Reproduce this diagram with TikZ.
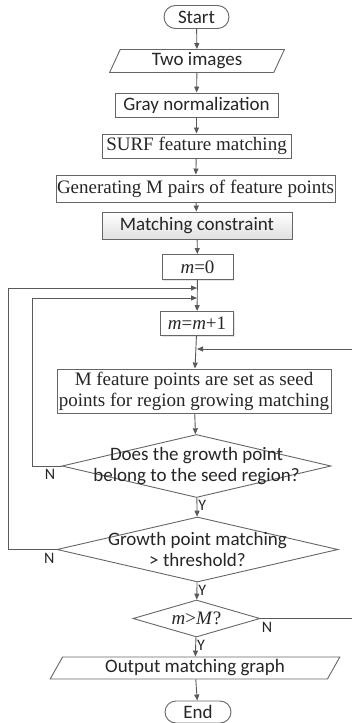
\documentclass[tikz,border=0pt]{standalone}
\usepackage{fontspec}
\setmainfont{Liberation Serif}
\newfontfamily\calfont{Carlito}
\usetikzlibrary{shapes.geometric,shapes.misc,arrows.meta,shadows}

\tikzset{
  base/.style={draw=black!60, line width=0.9bp, inner sep=0pt, text=black!85,
    font=\fontsize{19bp}{21bp}\selectfont},
  sansfont/.style={font=\fontsize{19bp}{21bp}\selectfont\calfont},
  terminal/.style={base, sansfont, rounded rectangle, fill=white},
  process/.style={base, rectangle, fill=white,
    drop shadow={shadow xshift=1.2bp, shadow yshift=-1.2bp, fill=black!20}},
  data/.style={base, trapezium, trapezium stretches=true, fill=white},
  decision/.style={base, diamond, fill=white},
  dlabel/.style={align=center, text=black!85, inner sep=0pt},
  yn/.style={font=\fontsize{16bp}{18bp}\selectfont\calfont, text=black!85, inner sep=1bp},
  line/.style={draw=black!65, line width=0.9bp},
  arrow/.style={line, -{Triangle[length=6bp,width=5bp]}}
}

\begin{document}
\begin{tikzpicture}[x=1bp, y=-1bp]
  \useasboundingbox (0,0) rectangle (351,723);

  \node[terminal, minimum width=65bp, minimum height=23bp] (start) at (196.5,17) {Start};
  \node[data, sansfont, trapezium left angle=69, trapezium right angle=111,
    minimum width=175bp, minimum height=23bp] (two) at (197,61) {Two images};
  \node[process, sansfont, minimum width=163bp, minimum height=24bp] (gray) at (196.5,105) {Gray normalization};
  \node[process, minimum width=189bp, minimum height=24bp] (surf) at (196.5,146) {SURF feature matching};
  \node[process, minimum width=279bp, minimum height=27bp] (gen) at (195.5,188.5) {Generating M pairs of feature points};
  \node[process, sansfont, top color=white, bottom color=black!12,
    minimum width=190bp, minimum height=27bp] (cons) at (197,225.5) {Matching constraint};
  \node[process, minimum width=71bp, minimum height=25bp] (mzero) at (197.5,267) {\textit{m}=0};
  \node[process, minimum width=73bp, minimum height=24bp] (minc) at (197,323.5) {\textit{m}=\textit{m}+1};
  \node[process, align=center, minimum width=274bp, minimum height=44bp] (seed) at (194,391)
    {M feature points are set as seed\\points for region growing matching};

  % decisions
  \node[decision, minimum width=269bp, minimum height=63bp,
    label={[dlabel, sansfont]center:Does the growth point\\belong to the seed region?}] (belong) at (196.5,466) {};
  \node[decision, minimum width=281bp, minimum height=65bp,
    label={[dlabel, sansfont]center:Growth point matching\\> threshold?}] (thresh) at (197.5,549.5) {};
  \node[decision, minimum width=127bp, minimum height=37bp,
    label={[dlabel, font=\fontsize{19bp}{21bp}\selectfont]center:\textit{m}>\textit{M}?}] (last) at (196.5,618.5) {};

  \node[data, sansfont, trapezium left angle=63, trapezium right angle=117,
    minimum width=290bp, minimum height=22bp] (out) at (195,668) {Output matching graph};
  \node[terminal, minimum width=66bp, minimum height=22bp] (end) at (198,712) {End};

  \coordinate (j1) at (197,288);
  \coordinate (j2) at (197,298);
  \coordinate (j3) at (197,349);

  \draw[arrow] (start) -- (two);
  \draw[arrow] (two) -- (gray);
  \draw[arrow] (gray) -- (surf);
  \draw[arrow] (surf) -- (gen);
  \draw[arrow] (gen) -- (cons);
  \draw[arrow] (cons) -- (mzero);
  \draw[arrow] (mzero) -- (minc);
  \draw[arrow] (minc) -- (seed);
  \draw[arrow] (seed) -- (belong);
  \draw[arrow] (belong) -- node[yn, right, pos=0.4] {Y} (thresh);
  \draw[arrow] (thresh) -- node[yn, right, pos=0.45] {Y} (last);
  \draw[arrow] (last) -- node[yn, right, pos=0.4] {Y} (out);
  \draw[arrow] (out) -- (end);

  % loops back
  \draw[arrow] (belong.west) -- node[yn, below=2bp, pos=0.4] {N} ++(-29,0) |- (j2);
  \draw[arrow] (thresh.west) -- node[yn, below=2bp, pos=0.15] {N} ++(-48,0) |- (j1);
  \draw[arrow] (last.east) -- node[yn, below=2bp, pos=0.07] {N} ++(94,0) |- (j3);
\end{tikzpicture}
\end{document}
